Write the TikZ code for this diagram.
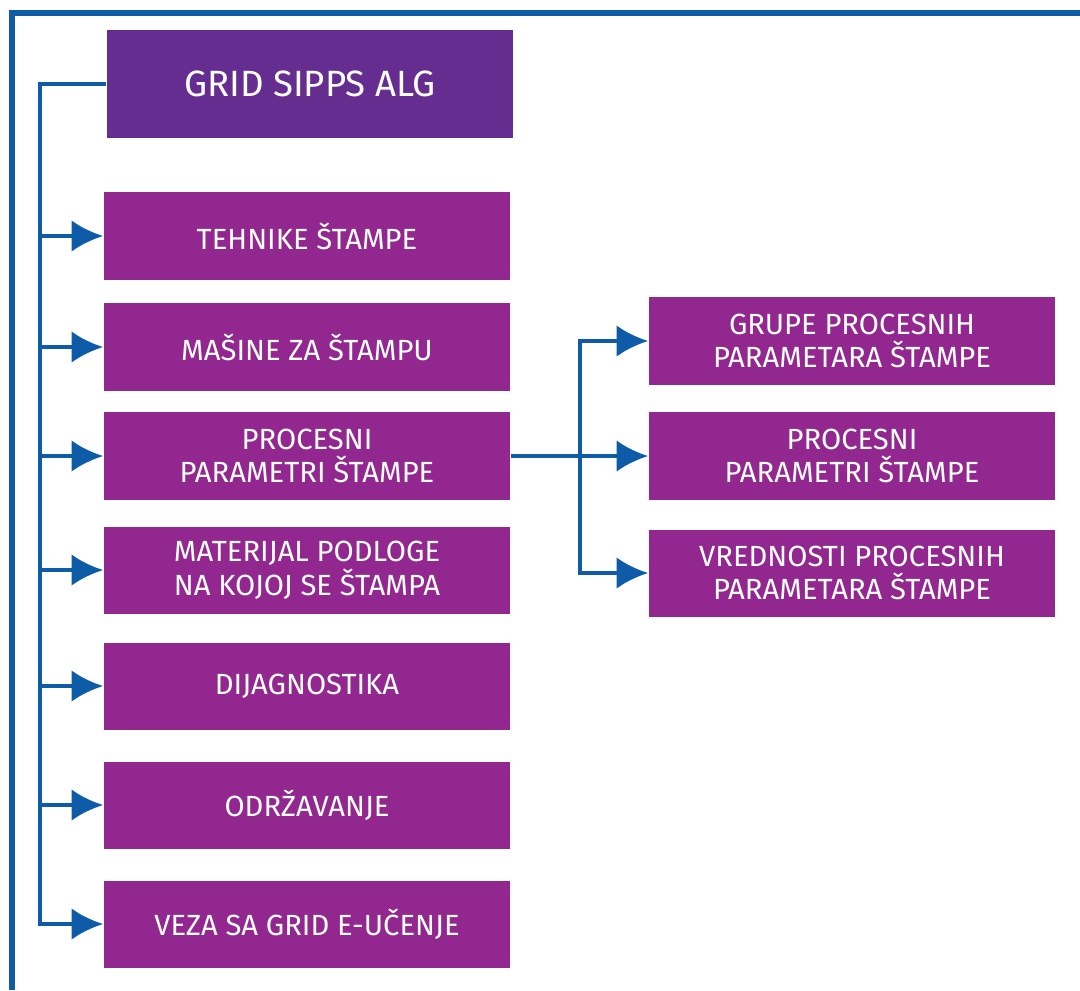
\documentclass[tikz,border=0pt]{standalone}
\usepackage{fontspec}
\setmainfont{Fira Sans}
\usetikzlibrary{arrows.meta}
\definecolor{sippsblue}{HTML}{0E5BA8}
\definecolor{hdrpurple}{HTML}{662D91}
\definecolor{boxpurple}{HTML}{92278F}
\begin{document}
\begin{tikzpicture}[x=0.01cm, y=-0.01cm,
  box/.style={fill=boxpurple, text=white, align=center, minimum width=4.06cm,
    minimum height=0.87cm, inner sep=0pt, font=\fontsize{8.3}{9.6}\selectfont},
  hdrbox/.style={box, fill=hdrpurple, minimum height=1.08cm, font=\fontsize{10.4}{13}\selectfont},
  link/.style={draw=sippsblue, line width=1.2pt},
  arrow/.style={link, -{Latex[length=9pt, width=9pt, color=sippsblue]}}]
  \useasboundingbox (0,0) rectangle (1080,990);
  % outer frame, only top and left edges visible
  \draw[sippsblue, line width=1.5pt] (12,990) -- (12,13) -- (1080,13);
  % main column
  \node[hdrbox] (hdr) at (310,84) {GRID SIPPS ALG};
  \node[box] (b1) at (307,236) {TEHNIKE ŠTAMPE};
  \node[box] (b2) at (307,347) {MAŠINE ZA ŠTAMPU};
  \node[box] (b3) at (307,456) {PROCESNI\\PARAMETRI ŠTAMPE};
  \node[box] (b4) at (307,570) {MATERIJAL PODLOGE\\NA KOJOJ SE ŠTAMPA};
  \node[box] (b5) at (307,686) {DIJAGNOSTIKA};
  \node[box] (b6) at (307,805) {ODRŽAVANJE};
  \node[box] (b7) at (307,924) {VEZA SA GRID E-UČENJE};
  % sub column
  \node[box] (r1) at (852,341) {GRUPE PROCESNIH\\PARAMETARA ŠTAMPE};
  \node[box] (r2) at (852,456) {PROCESNI\\PARAMETRI ŠTAMPE};
  \node[box] (r3) at (852,573) {VREDNOSTI PROCESNIH\\PARAMETARA ŠTAMPE};
  % connectors
  \coordinate (trunk) at (40,84);
  \coordinate (fork) at (580,456);
  \draw[arrow] (hdr.west) -- (trunk) |- (b7);
  \foreach \i in {1,...,6}
    \draw[arrow] (trunk |- b\i) -- (b\i);
  \draw[arrow] (b3) -- (r2);
  \draw[arrow] (fork) |- (r1);
  \draw[arrow] (fork) |- (r3);
\end{tikzpicture}
\end{document}
